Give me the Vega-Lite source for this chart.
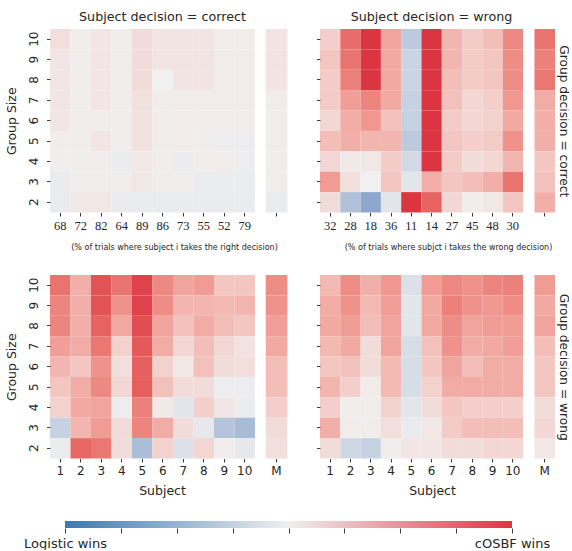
{
  "$schema": "https://vega.github.io/schema/vega-lite/v6.json",
  "padding": {"left": 5, "top": 11, "right": 0, "bottom": 0},
  "background": "white",
  "config": {
    "font": "DejaVu Sans",
    "view": {"stroke": null},
    "axis": {"domain": false, "grid": false, "tickColor": "#262626", "tickSize": 3.5, "tickWidth": 0.9, "labelColor": "#262626", "labelFontSize": 12, "labelPadding": 3, "titleFontSize": 12.5, "titleFontWeight": "normal", "titleColor": "#262626"},
    "title": {"fontSize": 12.7, "fontWeight": "normal", "color": "#262626", "offset": 5, "dx": 10}
  },
  "datasets": {
    "tl": [
      {"subject":"1","group_size":10,"score":0.10},{"subject":"2","group_size":10,"score":0.02},{"subject":"3","group_size":10,"score":0.06},{"subject":"4","group_size":10,"score":0.02},{"subject":"5","group_size":10,"score":0.12},{"subject":"6","group_size":10,"score":0.07},{"subject":"7","group_size":10,"score":0.07},{"subject":"8","group_size":10,"score":0.07},{"subject":"9","group_size":10,"score":0.03},{"subject":"10","group_size":10,"score":0.03},{"subject":"M","group_size":10,"score":0.07},
      {"subject":"1","group_size":9,"score":0.06},{"subject":"2","group_size":9,"score":0.02},{"subject":"3","group_size":9,"score":0.06},{"subject":"4","group_size":9,"score":0.02},{"subject":"5","group_size":9,"score":0.12},{"subject":"6","group_size":9,"score":0.07},{"subject":"7","group_size":9,"score":0.07},{"subject":"8","group_size":9,"score":0.07},{"subject":"9","group_size":9,"score":0.03},{"subject":"10","group_size":9,"score":0.03},{"subject":"M","group_size":9,"score":0.07},
      {"subject":"1","group_size":8,"score":0.06},{"subject":"2","group_size":8,"score":0.02},{"subject":"3","group_size":8,"score":0.06},{"subject":"4","group_size":8,"score":0.02},{"subject":"5","group_size":8,"score":0.12},{"subject":"6","group_size":8,"score":0.00},{"subject":"7","group_size":8,"score":0.07},{"subject":"8","group_size":8,"score":0.07},{"subject":"9","group_size":8,"score":0.03},{"subject":"10","group_size":8,"score":0.03},{"subject":"M","group_size":8,"score":0.07},
      {"subject":"1","group_size":7,"score":0.06},{"subject":"2","group_size":7,"score":0.02},{"subject":"3","group_size":7,"score":0.06},{"subject":"4","group_size":7,"score":0.02},{"subject":"5","group_size":7,"score":0.09},{"subject":"6","group_size":7,"score":0.02},{"subject":"7","group_size":7,"score":0.03},{"subject":"8","group_size":7,"score":0.03},{"subject":"9","group_size":7,"score":0.03},{"subject":"10","group_size":7,"score":0.03},{"subject":"M","group_size":7,"score":0.03},
      {"subject":"1","group_size":6,"score":0.06},{"subject":"2","group_size":6,"score":0.02},{"subject":"3","group_size":6,"score":0.02},{"subject":"4","group_size":6,"score":0.02},{"subject":"5","group_size":6,"score":0.09},{"subject":"6","group_size":6,"score":0.02},{"subject":"7","group_size":6,"score":0.03},{"subject":"8","group_size":6,"score":0.03},{"subject":"9","group_size":6,"score":0.03},{"subject":"10","group_size":6,"score":0.03},{"subject":"M","group_size":6,"score":0.03},
      {"subject":"1","group_size":5,"score":0.02},{"subject":"2","group_size":5,"score":0.02},{"subject":"3","group_size":5,"score":0.06},{"subject":"4","group_size":5,"score":0.02},{"subject":"5","group_size":5,"score":0.09},{"subject":"6","group_size":5,"score":0.02},{"subject":"7","group_size":5,"score":0.03},{"subject":"8","group_size":5,"score":0.02},{"subject":"9","group_size":5,"score":-0.02},{"subject":"10","group_size":5,"score":-0.02},{"subject":"M","group_size":5,"score":0.03},
      {"subject":"1","group_size":4,"score":0.02},{"subject":"2","group_size":4,"score":0.02},{"subject":"3","group_size":4,"score":0.02},{"subject":"4","group_size":4,"score":-0.03},{"subject":"5","group_size":4,"score":0.05},{"subject":"6","group_size":4,"score":0.02},{"subject":"7","group_size":4,"score":-0.03},{"subject":"8","group_size":4,"score":0.02},{"subject":"9","group_size":4,"score":0.03},{"subject":"10","group_size":4,"score":-0.02},{"subject":"M","group_size":4,"score":0.03},
      {"subject":"1","group_size":3,"score":-0.04},{"subject":"2","group_size":3,"score":0.02},{"subject":"3","group_size":3,"score":0.02},{"subject":"4","group_size":3,"score":0.02},{"subject":"5","group_size":3,"score":0.05},{"subject":"6","group_size":3,"score":0.02},{"subject":"7","group_size":3,"score":0.02},{"subject":"8","group_size":3,"score":-0.03},{"subject":"9","group_size":3,"score":-0.03},{"subject":"10","group_size":3,"score":-0.03},{"subject":"M","group_size":3,"score":0.03},
      {"subject":"1","group_size":2,"score":-0.04},{"subject":"2","group_size":2,"score":0.05},{"subject":"3","group_size":2,"score":0.05},{"subject":"4","group_size":2,"score":-0.04},{"subject":"5","group_size":2,"score":-0.04},{"subject":"6","group_size":2,"score":-0.04},{"subject":"7","group_size":2,"score":-0.04},{"subject":"8","group_size":2,"score":-0.04},{"subject":"9","group_size":2,"score":-0.04},{"subject":"10","group_size":2,"score":-0.04},{"subject":"M","group_size":2,"score":-0.04}
    ],
    "tr": [
      {"subject":"1","group_size":10,"score":0.20},{"subject":"2","group_size":10,"score":0.75},{"subject":"3","group_size":10,"score":1.0},{"subject":"4","group_size":10,"score":0.45},{"subject":"5","group_size":10,"score":-0.30},{"subject":"6","group_size":10,"score":1.0},{"subject":"7","group_size":10,"score":0.35},{"subject":"8","group_size":10,"score":0.22},{"subject":"9","group_size":10,"score":0.30},{"subject":"10","group_size":10,"score":0.60},{"subject":"M","group_size":10,"score":0.72},
      {"subject":"1","group_size":9,"score":0.25},{"subject":"2","group_size":9,"score":0.72},{"subject":"3","group_size":9,"score":1.0},{"subject":"4","group_size":9,"score":0.42},{"subject":"5","group_size":9,"score":-0.22},{"subject":"6","group_size":9,"score":1.0},{"subject":"7","group_size":9,"score":0.35},{"subject":"8","group_size":9,"score":0.22},{"subject":"9","group_size":9,"score":0.25},{"subject":"10","group_size":9,"score":0.58},{"subject":"M","group_size":9,"score":0.65},
      {"subject":"1","group_size":8,"score":0.22},{"subject":"2","group_size":8,"score":0.65},{"subject":"3","group_size":8,"score":1.0},{"subject":"4","group_size":8,"score":0.42},{"subject":"5","group_size":8,"score":-0.22},{"subject":"6","group_size":8,"score":1.0},{"subject":"7","group_size":8,"score":0.30},{"subject":"8","group_size":8,"score":0.22},{"subject":"9","group_size":8,"score":0.25},{"subject":"10","group_size":8,"score":0.58},{"subject":"M","group_size":8,"score":0.70},
      {"subject":"1","group_size":7,"score":0.22},{"subject":"2","group_size":7,"score":0.48},{"subject":"3","group_size":7,"score":0.62},{"subject":"4","group_size":7,"score":0.42},{"subject":"5","group_size":7,"score":-0.25},{"subject":"6","group_size":7,"score":1.0},{"subject":"7","group_size":7,"score":0.28},{"subject":"8","group_size":7,"score":0.15},{"subject":"9","group_size":7,"score":0.20},{"subject":"10","group_size":7,"score":0.52},{"subject":"M","group_size":7,"score":0.40},
      {"subject":"1","group_size":6,"score":0.15},{"subject":"2","group_size":6,"score":0.40},{"subject":"3","group_size":6,"score":0.52},{"subject":"4","group_size":6,"score":0.28},{"subject":"5","group_size":6,"score":-0.25},{"subject":"6","group_size":6,"score":1.0},{"subject":"7","group_size":6,"score":0.22},{"subject":"8","group_size":6,"score":0.15},{"subject":"9","group_size":6,"score":0.18},{"subject":"10","group_size":6,"score":0.42},{"subject":"M","group_size":6,"score":0.38},
      {"subject":"1","group_size":5,"score":0.30},{"subject":"2","group_size":5,"score":0.38},{"subject":"3","group_size":5,"score":0.35},{"subject":"4","group_size":5,"score":0.35},{"subject":"5","group_size":5,"score":-0.30},{"subject":"6","group_size":5,"score":1.0},{"subject":"7","group_size":5,"score":0.25},{"subject":"8","group_size":5,"score":0.20},{"subject":"9","group_size":5,"score":0.22},{"subject":"10","group_size":5,"score":0.55},{"subject":"M","group_size":5,"score":0.38},
      {"subject":"1","group_size":4,"score":0.15},{"subject":"2","group_size":4,"score":0.04},{"subject":"3","group_size":4,"score":0.05},{"subject":"4","group_size":4,"score":0.22},{"subject":"5","group_size":4,"score":-0.18},{"subject":"6","group_size":4,"score":1.0},{"subject":"7","group_size":4,"score":0.22},{"subject":"8","group_size":4,"score":0.12},{"subject":"9","group_size":4,"score":0.15},{"subject":"10","group_size":4,"score":0.35},{"subject":"M","group_size":4,"score":0.25},
      {"subject":"1","group_size":3,"score":0.50},{"subject":"2","group_size":3,"score":0.10},{"subject":"3","group_size":3,"score":0.00},{"subject":"4","group_size":3,"score":0.25},{"subject":"5","group_size":3,"score":-0.08},{"subject":"6","group_size":3,"score":0.38},{"subject":"7","group_size":3,"score":0.25},{"subject":"8","group_size":3,"score":0.30},{"subject":"9","group_size":3,"score":0.38},{"subject":"10","group_size":3,"score":0.72},{"subject":"M","group_size":3,"score":0.28},
      {"subject":"1","group_size":2,"score":0.12},{"subject":"2","group_size":2,"score":-0.38},{"subject":"3","group_size":2,"score":-0.58},{"subject":"4","group_size":2,"score":-0.08},{"subject":"5","group_size":2,"score":1.0},{"subject":"6","group_size":2,"score":0.80},{"subject":"7","group_size":2,"score":0.15},{"subject":"8","group_size":2,"score":0.02},{"subject":"9","group_size":2,"score":0.05},{"subject":"10","group_size":2,"score":0.25},{"subject":"M","group_size":2,"score":0.38}
    ],
    "bl": [
      {"subject":"1","group_size":10,"score":0.72},{"subject":"2","group_size":10,"score":0.38},{"subject":"3","group_size":10,"score":0.88},{"subject":"4","group_size":10,"score":0.72},{"subject":"5","group_size":10,"score":0.95},{"subject":"6","group_size":10,"score":0.60},{"subject":"7","group_size":10,"score":0.45},{"subject":"8","group_size":10,"score":0.50},{"subject":"9","group_size":10,"score":0.25},{"subject":"10","group_size":10,"score":0.25},{"subject":"M","group_size":10,"score":0.58},
      {"subject":"1","group_size":9,"score":0.62},{"subject":"2","group_size":9,"score":0.38},{"subject":"3","group_size":9,"score":0.88},{"subject":"4","group_size":9,"score":0.55},{"subject":"5","group_size":9,"score":0.95},{"subject":"6","group_size":9,"score":0.58},{"subject":"7","group_size":9,"score":0.35},{"subject":"8","group_size":9,"score":0.35},{"subject":"9","group_size":9,"score":0.32},{"subject":"10","group_size":9,"score":0.35},{"subject":"M","group_size":9,"score":0.55},
      {"subject":"1","group_size":8,"score":0.62},{"subject":"2","group_size":8,"score":0.38},{"subject":"3","group_size":8,"score":0.80},{"subject":"4","group_size":8,"score":0.42},{"subject":"5","group_size":8,"score":0.90},{"subject":"6","group_size":8,"score":0.45},{"subject":"7","group_size":8,"score":0.28},{"subject":"8","group_size":8,"score":0.40},{"subject":"9","group_size":8,"score":0.30},{"subject":"10","group_size":8,"score":0.25},{"subject":"M","group_size":8,"score":0.48},
      {"subject":"1","group_size":7,"score":0.48},{"subject":"2","group_size":7,"score":0.40},{"subject":"3","group_size":7,"score":0.70},{"subject":"4","group_size":7,"score":0.18},{"subject":"5","group_size":7,"score":0.85},{"subject":"6","group_size":7,"score":0.40},{"subject":"7","group_size":7,"score":0.15},{"subject":"8","group_size":7,"score":0.30},{"subject":"9","group_size":7,"score":0.15},{"subject":"10","group_size":7,"score":0.08},{"subject":"M","group_size":7,"score":0.42},
      {"subject":"1","group_size":6,"score":0.35},{"subject":"2","group_size":6,"score":0.25},{"subject":"3","group_size":6,"score":0.55},{"subject":"4","group_size":6,"score":0.10},{"subject":"5","group_size":6,"score":0.82},{"subject":"6","group_size":6,"score":0.18},{"subject":"7","group_size":6,"score":0.05},{"subject":"8","group_size":6,"score":0.28},{"subject":"9","group_size":6,"score":0.12},{"subject":"10","group_size":6,"score":0.10},{"subject":"M","group_size":6,"score":0.30},
      {"subject":"1","group_size":5,"score":0.25},{"subject":"2","group_size":5,"score":0.40},{"subject":"3","group_size":5,"score":0.60},{"subject":"4","group_size":5,"score":0.15},{"subject":"5","group_size":5,"score":0.82},{"subject":"6","group_size":5,"score":0.28},{"subject":"7","group_size":5,"score":0.12},{"subject":"8","group_size":5,"score":0.12},{"subject":"9","group_size":5,"score":-0.02},{"subject":"10","group_size":5,"score":-0.02},{"subject":"M","group_size":5,"score":0.30},
      {"subject":"1","group_size":4,"score":0.18},{"subject":"2","group_size":4,"score":0.42},{"subject":"3","group_size":4,"score":0.45},{"subject":"4","group_size":4,"score":-0.02},{"subject":"5","group_size":4,"score":0.65},{"subject":"6","group_size":4,"score":0.04},{"subject":"7","group_size":4,"score":-0.08},{"subject":"8","group_size":4,"score":0.20},{"subject":"9","group_size":4,"score":0.06},{"subject":"10","group_size":4,"score":-0.03},{"subject":"M","group_size":4,"score":0.20},
      {"subject":"1","group_size":3,"score":-0.25},{"subject":"2","group_size":3,"score":0.35},{"subject":"3","group_size":3,"score":0.50},{"subject":"4","group_size":3,"score":0.12},{"subject":"5","group_size":3,"score":0.62},{"subject":"6","group_size":3,"score":0.40},{"subject":"7","group_size":3,"score":0.12},{"subject":"8","group_size":3,"score":-0.06},{"subject":"9","group_size":3,"score":-0.35},{"subject":"10","group_size":3,"score":-0.42},{"subject":"M","group_size":3,"score":0.12},
      {"subject":"1","group_size":2,"score":-0.03},{"subject":"2","group_size":2,"score":0.78},{"subject":"3","group_size":2,"score":0.70},{"subject":"4","group_size":2,"score":0.12},{"subject":"5","group_size":2,"score":-0.40},{"subject":"6","group_size":2,"score":0.18},{"subject":"7","group_size":2,"score":-0.12},{"subject":"8","group_size":2,"score":0.16},{"subject":"9","group_size":2,"score":0.02},{"subject":"10","group_size":2,"score":-0.06},{"subject":"M","group_size":2,"score":0.10}
    ],
    "br": [
      {"subject":"1","group_size":10,"score":0.32},{"subject":"2","group_size":10,"score":0.58},{"subject":"3","group_size":10,"score":0.38},{"subject":"4","group_size":10,"score":0.52},{"subject":"5","group_size":10,"score":-0.12},{"subject":"6","group_size":10,"score":0.50},{"subject":"7","group_size":10,"score":0.60},{"subject":"8","group_size":10,"score":0.55},{"subject":"9","group_size":10,"score":0.62},{"subject":"10","group_size":10,"score":0.65},{"subject":"M","group_size":10,"score":0.50},
      {"subject":"1","group_size":9,"score":0.40},{"subject":"2","group_size":9,"score":0.55},{"subject":"3","group_size":9,"score":0.32},{"subject":"4","group_size":9,"score":0.48},{"subject":"5","group_size":9,"score":-0.08},{"subject":"6","group_size":9,"score":0.42},{"subject":"7","group_size":9,"score":0.65},{"subject":"8","group_size":9,"score":0.55},{"subject":"9","group_size":9,"score":0.52},{"subject":"10","group_size":9,"score":0.58},{"subject":"M","group_size":9,"score":0.42},
      {"subject":"1","group_size":8,"score":0.42},{"subject":"2","group_size":8,"score":0.50},{"subject":"3","group_size":8,"score":0.30},{"subject":"4","group_size":8,"score":0.45},{"subject":"5","group_size":8,"score":-0.08},{"subject":"6","group_size":8,"score":0.42},{"subject":"7","group_size":8,"score":0.58},{"subject":"8","group_size":8,"score":0.45},{"subject":"9","group_size":8,"score":0.50},{"subject":"10","group_size":8,"score":0.50},{"subject":"M","group_size":8,"score":0.45},
      {"subject":"1","group_size":7,"score":0.32},{"subject":"2","group_size":7,"score":0.42},{"subject":"3","group_size":7,"score":0.12},{"subject":"4","group_size":7,"score":0.45},{"subject":"5","group_size":7,"score":-0.15},{"subject":"6","group_size":7,"score":0.28},{"subject":"7","group_size":7,"score":0.55},{"subject":"8","group_size":7,"score":0.40},{"subject":"9","group_size":7,"score":0.42},{"subject":"10","group_size":7,"score":0.48},{"subject":"M","group_size":7,"score":0.30},
      {"subject":"1","group_size":6,"score":0.25},{"subject":"2","group_size":6,"score":0.28},{"subject":"3","group_size":6,"score":0.12},{"subject":"4","group_size":6,"score":0.32},{"subject":"5","group_size":6,"score":-0.15},{"subject":"6","group_size":6,"score":0.25},{"subject":"7","group_size":6,"score":0.45},{"subject":"8","group_size":6,"score":0.30},{"subject":"9","group_size":6,"score":0.40},{"subject":"10","group_size":6,"score":0.40},{"subject":"M","group_size":6,"score":0.25},
      {"subject":"1","group_size":5,"score":0.35},{"subject":"2","group_size":5,"score":0.20},{"subject":"3","group_size":5,"score":0.03},{"subject":"4","group_size":5,"score":0.32},{"subject":"5","group_size":5,"score":-0.15},{"subject":"6","group_size":5,"score":0.18},{"subject":"7","group_size":5,"score":0.40},{"subject":"8","group_size":5,"score":0.40},{"subject":"9","group_size":5,"score":0.40},{"subject":"10","group_size":5,"score":0.40},{"subject":"M","group_size":5,"score":0.25},
      {"subject":"1","group_size":4,"score":0.20},{"subject":"2","group_size":4,"score":0.02},{"subject":"3","group_size":4,"score":0.02},{"subject":"4","group_size":4,"score":0.18},{"subject":"5","group_size":4,"score":-0.08},{"subject":"6","group_size":4,"score":0.12},{"subject":"7","group_size":4,"score":0.25},{"subject":"8","group_size":4,"score":0.20},{"subject":"9","group_size":4,"score":0.20},{"subject":"10","group_size":4,"score":0.20},{"subject":"M","group_size":4,"score":0.12},
      {"subject":"1","group_size":3,"score":0.38},{"subject":"2","group_size":3,"score":0.03},{"subject":"3","group_size":3,"score":0.02},{"subject":"4","group_size":3,"score":0.10},{"subject":"5","group_size":3,"score":-0.04},{"subject":"6","group_size":3,"score":0.05},{"subject":"7","group_size":3,"score":0.22},{"subject":"8","group_size":3,"score":0.30},{"subject":"9","group_size":3,"score":0.30},{"subject":"10","group_size":3,"score":0.30},{"subject":"M","group_size":3,"score":0.15},
      {"subject":"1","group_size":2,"score":0.12},{"subject":"2","group_size":2,"score":-0.20},{"subject":"3","group_size":2,"score":-0.25},{"subject":"4","group_size":2,"score":0.02},{"subject":"5","group_size":2,"score":0.06},{"subject":"6","group_size":2,"score":0.06},{"subject":"7","group_size":2,"score":0.12},{"subject":"8","group_size":2,"score":0.12},{"subject":"9","group_size":2,"score":0.15},{"subject":"10","group_size":2,"score":0.15},{"subject":"M","group_size":2,"score":0.05}
    ],
    "bar": [{"lo": -1, "hi": 1}]
  },
  "columns": 4,
  "bounds": "flush",
  "align": "none",
  "spacing": {"row": 62, "column": 0},
  "resolve": {"scale": {"x": "independent", "y": "independent"}},
  "concat": [
    {
      "width": 205, "height": 183.5,
      "title": {"text": "Subject decision = correct"},
      "data": {"name": "tl"},
      "transform": [{"filter": "datum.subject != 'M'"}],
      "mark": "rect",
      "encoding": {
        "x": {"field": "subject", "type": "ordinal", "scale": {"domain": ["1","2","3","4","5","6","7","8","9","10"]}, "axis": {"labelAngle": 0, "labelFont": "Liberation Serif", "labelFontSize": 12.5, "labelExpr": "['68','72','82','64','89','86','73','55','52','79'][indexof(['1','2','3','4','5','6','7','8','9','10'], datum.value)]", "title": "(% of trials where subject i takes the right decision)", "titleFontSize": 8, "titleX": 124, "titlePadding": 12}},
        "y": {"field": "group_size", "type": "ordinal", "scale": {"domain": [10,9,8,7,6,5,4,3,2]}, "axis": {"title": "Group Size", "labelAngle": 270, "labelAlign": "center", "labelBaseline": "bottom", "labelPadding": 6, "titlePadding": 9}},
        "color": {"field": "score", "type": "quantitative", "scale": {"domain": [-1, 0, 1], "range": ["#3b78b2", "#f0f0f0", "#dc3542"]}, "legend": null}
      }
    },
    {
      "width": 65, "height": 183.5,
      "data": {"name": "tl"},
      "transform": [{"filter": "datum.subject == 'M'"}],
      "mark": "rect",
      "encoding": {
        "x": {"field": "subject", "type": "ordinal", "scale": {"paddingInner": 0, "paddingOuter": 1.085, "align": 0.247}, "axis": {"labels": false, "title": null}},
        "y": {"field": "group_size", "type": "ordinal", "scale": {"domain": [10,9,8,7,6,5,4,3,2]}, "axis": null},
        "color": {"field": "score", "type": "quantitative", "scale": {"domain": [-1, 0, 1], "range": ["#3b78b2", "#f0f0f0", "#dc3542"]}, "legend": null}
      }
    },
    {
      "width": 203, "height": 183.5,
      "title": {"text": "Subject decision = wrong"},
      "data": {"name": "tr"},
      "transform": [{"filter": "datum.subject != 'M'"}],
      "mark": "rect",
      "encoding": {
        "x": {"field": "subject", "type": "ordinal", "scale": {"domain": ["1","2","3","4","5","6","7","8","9","10"]}, "axis": {"labelAngle": 0, "labelFont": "Liberation Serif", "labelFontSize": 12.5, "labelExpr": "['32','28','18','36','11','14','27','45','48','30'][indexof(['1','2','3','4','5','6','7','8','9','10'], datum.value)]", "title": "(% of trials where subjct i takes the wrong decision)", "titleFontSize": 8, "titleX": 128, "titlePadding": 12}},
        "y": {"field": "group_size", "type": "ordinal", "scale": {"domain": [10,9,8,7,6,5,4,3,2]}, "axis": {"labels": false, "title": null}},
        "color": {"field": "score", "type": "quantitative", "scale": {"domain": [-1, 0, 1], "range": ["#3b78b2", "#f0f0f0", "#dc3542"]}, "legend": null}
      }
    },
    {
      "width": 32, "height": 183.5,
      "data": {"name": "tr"},
      "transform": [{"filter": "datum.subject == 'M'"}],
      "mark": "rect",
      "encoding": {
        "x": {"field": "subject", "type": "ordinal", "scale": {"paddingInner": 0, "paddingOuter": 0.28, "align": 1}, "axis": {"labels": false, "title": null}},
        "y": {"field": "group_size", "type": "ordinal", "scale": {"domain": [10,9,8,7,6,5,4,3,2]}, "axis": {"orient": "right", "labels": false, "ticks": false, "title": "Group decision = correct", "titleFontSize": 12.2, "titlePadding": 1}},
        "color": {"field": "score", "type": "quantitative", "scale": {"domain": [-1, 0, 1], "range": ["#3b78b2", "#f0f0f0", "#dc3542"]}, "legend": null}
      }
    },
    {
      "width": 205, "height": 183.5,
      "data": {"name": "bl"},
      "transform": [{"filter": "datum.subject != 'M'"}],
      "mark": "rect",
      "encoding": {
        "x": {"field": "subject", "type": "ordinal", "scale": {"domain": ["1","2","3","4","5","6","7","8","9","10"]}, "axis": {"labelAngle": 0, "labelFontSize": 12, "title": "Subject", "titleX": 112, "titlePadding": 8}},
        "y": {"field": "group_size", "type": "ordinal", "scale": {"domain": [10,9,8,7,6,5,4,3,2]}, "axis": {"title": "Group Size", "labelAngle": 270, "labelAlign": "center", "labelBaseline": "bottom", "labelPadding": 6, "titlePadding": 9}},
        "color": {"field": "score", "type": "quantitative", "scale": {"domain": [-1, 0, 1], "range": ["#3b78b2", "#f0f0f0", "#dc3542"]}, "legend": null}
      }
    },
    {
      "width": 65, "height": 183.5,
      "data": {"name": "bl"},
      "transform": [{"filter": "datum.subject == 'M'"}],
      "mark": "rect",
      "encoding": {
        "x": {"field": "subject", "type": "ordinal", "scale": {"paddingInner": 0, "paddingOuter": 1.085, "align": 0.247}, "axis": {"labelAngle": 0, "labelFontSize": 12, "title": null}},
        "y": {"field": "group_size", "type": "ordinal", "scale": {"domain": [10,9,8,7,6,5,4,3,2]}, "axis": null},
        "color": {"field": "score", "type": "quantitative", "scale": {"domain": [-1, 0, 1], "range": ["#3b78b2", "#f0f0f0", "#dc3542"]}, "legend": null}
      }
    },
    {
      "width": 203, "height": 183.5,
      "data": {"name": "br"},
      "transform": [{"filter": "datum.subject != 'M'"}],
      "mark": "rect",
      "encoding": {
        "x": {"field": "subject", "type": "ordinal", "scale": {"domain": ["1","2","3","4","5","6","7","8","9","10"]}, "axis": {"labelAngle": 0, "labelFontSize": 12, "title": "Subject", "titleX": 112, "titlePadding": 8}},
        "y": {"field": "group_size", "type": "ordinal", "scale": {"domain": [10,9,8,7,6,5,4,3,2]}, "axis": {"labels": false, "title": null}},
        "color": {"field": "score", "type": "quantitative", "scale": {"domain": [-1, 0, 1], "range": ["#3b78b2", "#f0f0f0", "#dc3542"]}, "legend": null}
      }
    },
    {
      "width": 32, "height": 183.5,
      "data": {"name": "br"},
      "transform": [{"filter": "datum.subject == 'M'"}],
      "mark": "rect",
      "encoding": {
        "x": {"field": "subject", "type": "ordinal", "scale": {"paddingInner": 0, "paddingOuter": 0.28, "align": 1}, "axis": {"labelAngle": 0, "labelFontSize": 12, "title": null}},
        "y": {"field": "group_size", "type": "ordinal", "scale": {"domain": [10,9,8,7,6,5,4,3,2]}, "axis": {"orient": "right", "labels": false, "ticks": false, "title": "Group decision = wrong", "titleFontSize": 12.2, "titlePadding": 1}},
        "color": {"field": "score", "type": "quantitative", "scale": {"domain": [-1, 0, 1], "range": ["#3b78b2", "#f0f0f0", "#dc3542"]}, "legend": null}
      }
    },
    {
      "width": 205, "height": 7,
      "data": {"name": "bar"},
      "mark": {"type": "rect", "color": {"gradient": "linear", "x1": 0, "x2": 1, "y1": 0, "y2": 0, "stops": [{"offset": 0, "color": "#3b78b2"}, {"offset": 0.5, "color": "#f0f0f0"}, {"offset": 1, "color": "#dc3542"}]}},
      "encoding": {
        "x": {"field": "lo", "type": "quantitative", "scale": {"domain": [-1, 1], "range": [15, 462], "nice": false, "zero": false}, "axis": {"values": [-1, -0.75, -0.5, -0.25, 0, 0.25, 0.5, 0.75, 1], "labelExpr": "datum.value == -1 ? 'Logistic wins' : datum.value == 1 ? 'cOSBF wins' : ''", "labelFontSize": 13, "labelOverlap": false, "labelBound": false, "labelFlush": false, "labelPadding": 4, "tickSize": 5, "title": null}},
        "x2": {"field": "hi"}
      }
    }
  ]
}
